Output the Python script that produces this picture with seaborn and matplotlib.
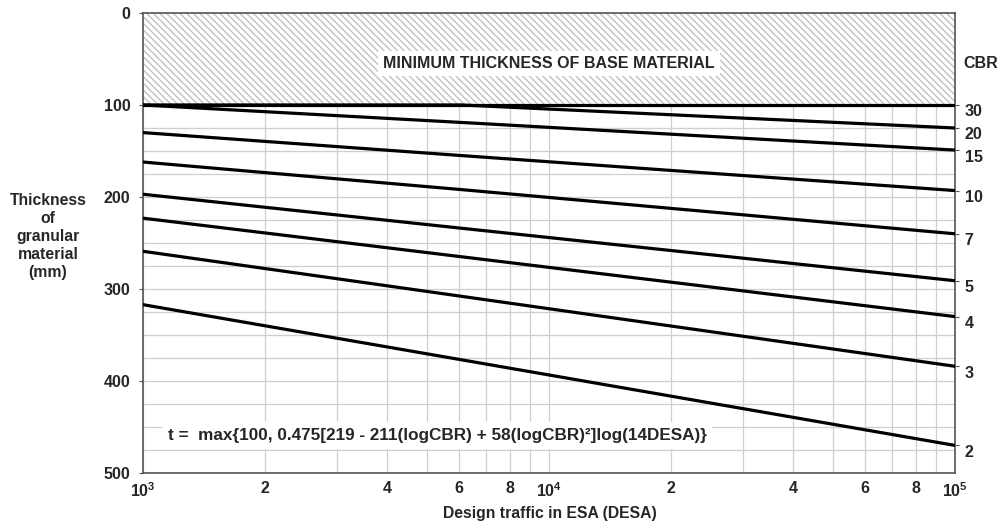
import numpy as np
import pandas as pd
import matplotlib
matplotlib.use('Agg')
import matplotlib.pyplot as plt
import matplotlib.ticker as mticker
import seaborn as sns

# values
cbr = [30, 20, 15, 10, 7, 5, 4, 3, 2]
desa_points = [1e3, 6.1e3, 1e5]
t_at_1e3 = [100, 100, 100, 130, 162, 197, 223, 259, 317]
t_at_6e3 = [100, 100, 119, 155, 192, 234, 265, 308, 377]
t_at_1e5 = [100, 125, 149, 193, 240, 291, 330, 384, 470]

x_ticks = [1e3, 2e3, 4e3, 6e3, 8e3, 1e4, 2e4, 4e4, 6e4, 8e4, 1e5]
x_tick_labels = [r'$\mathbf{10^{3}}$', '2', '4', '6', '8', r'$\mathbf{10^{4}}$',
                 '2', '4', '6', '8', r'$\mathbf{10^{5}}$']
y_ticks = [0, 100, 200, 300, 400, 500]

rows = []
for i, c in enumerate(cbr):
    for d, t in zip(desa_points, [t_at_1e3[i], t_at_6e3[i], t_at_1e5[i]]):
        rows.append({'CBR': c, 'DESA': d, 't': t})
df = pd.DataFrame(rows)

sns.set_style('white')
plt.rcParams['font.family'] = ['Liberation Sans', 'DejaVu Sans']
plt.rcParams['font.weight'] = 'bold'
plt.rcParams['mathtext.fontset'] = 'custom'
plt.rcParams['mathtext.bf'] = 'Liberation Sans:bold'
plt.rcParams['mathtext.rm'] = 'Liberation Sans:bold'
plt.rcParams['hatch.linewidth'] = 1.0

fig = plt.figure(figsize=(10.02, 5.30), dpi=100)
ax = fig.add_axes([0.1427, 0.1075, 0.8104, 0.868])

ax.set_xscale('log')
ax.set_xlim(1e3, 1e5)
ax.set_ylim(500, 0)

# grid
ax.xaxis.set_minor_locator(mticker.LogLocator(base=10, subs=np.arange(2, 10)))
ax.yaxis.set_minor_locator(mticker.MultipleLocator(25))
ax.grid(which='both', color='#cfcfcf', linewidth=0.9)
ax.set_axisbelow(True)

# hatched minimum-thickness zone
ax.axhspan(0, 100, facecolor='white', edgecolor='#c2c2c2', hatch='\\' * 5, linewidth=0, zorder=1)

sns.lineplot(data=df, x='DESA', y='t', units='CBR', estimator=None, color='black',
             linewidth=2.3, ax=ax, zorder=3, legend=False)

ax.set_xticks(x_ticks)
ax.set_xticklabels(x_tick_labels)
ax.xaxis.set_minor_formatter(mticker.NullFormatter())
ax.set_yticks(y_ticks)
ax.set_yticklabels([str(v) for v in y_ticks])
ax.tick_params(which='major', labelsize=11.5, length=3, width=0.8, color='#555555')
ax.tick_params(axis='x', pad=3)
ax.tick_params(axis='y', pad=6)
ax.tick_params(which='minor', length=0)
ax.set_xlabel('')
ax.set_ylabel('')
for s in ax.spines.values():
    s.set_color('#555555')
    s.set_linewidth(1.2)

# right-hand CBR tick marks and labels
ax2 = ax.twinx()
ax2.set_ylim(500, 0)
ax2.set_yticks(t_at_1e5)
ax2.set_yticklabels([])
ax2.tick_params(axis='y', length=3, width=0.8, color='#555555')
for s in ax2.spines.values():
    s.set_visible(False)
ax2.grid(False)
for c, t in zip(cbr, t_at_1e5):
    ax.annotate(str(c), xy=(1e5, t), xytext=(7, -5), textcoords='offset points',
                ha='left', va='center', fontsize=11.5, fontweight='bold', annotation_clip=False)

fig.text(0.961, 0.88, 'CBR', fontsize=11.5, fontweight='bold', ha='left', va='center')

ax.text(1e4, 55, 'MINIMUM THICKNESS OF BASE MATERIAL', ha='center', va='center',
        fontsize=11.5, fontweight='bold', zorder=4,
        bbox=dict(boxstyle='square,pad=0.3', facecolor='white', edgecolor='none'))

ax.text(1150, 459, 't =  max{100, 0.475[219 - 211(logCBR) + 58(logCBR)²]log(14DESA)}',
        ha='left', va='center', fontsize=12.3, fontweight='bold', zorder=4,
        bbox=dict(boxstyle='square,pad=0.35', facecolor='white', edgecolor='none'))

fig.text(0.048, 0.553, 'Thickness\nof\ngranular\nmaterial\n(mm)', ha='center', va='center',
         fontsize=11.3, fontweight='bold', linespacing=1.25)
fig.text(0.549, 0.032, 'Design traffic in ESA (DESA)', ha='center', va='center',
         fontsize=11.3, fontweight='bold')

fig.savefig('out.png', dpi=100)
